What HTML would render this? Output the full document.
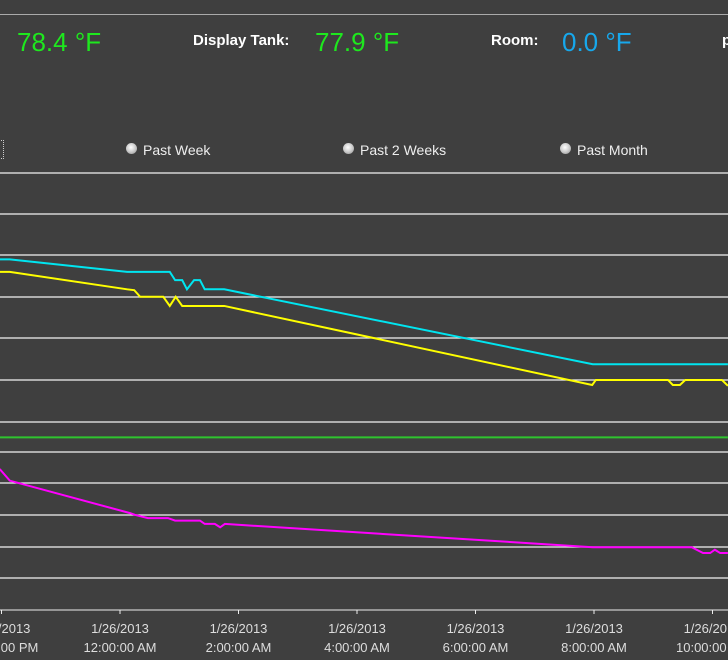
<!DOCTYPE html>
<html><head><meta charset="utf-8"><style>
body{margin:0;background:#3f3f3f;width:728px;height:660px;overflow:hidden;font-family:"Liberation Sans",sans-serif;position:relative}
.t{position:absolute;white-space:nowrap}
.big{font-size:26px;top:27px}
.lab{font-size:15px;color:#fff;font-weight:bold;top:32px}
.r{position:absolute;top:143px;width:11px;height:11px;border-radius:50%;background:radial-gradient(circle at 45% 40%,#fff,#ccc 50%,#888)}
.rt{font-size:14px;color:#eee;top:142px}
</style></head><body>
<div style="position:absolute;left:0;top:14px;width:728px;height:1px;background:#aaa"></div>
<div class="t big" style="left:17px;color:#1ee81e">78.4 °F</div>
<div class="t lab" style="left:193px">Display Tank:</div>
<div class="t big" style="left:315px;color:#1ee81e">77.9 °F</div>
<div class="t lab" style="left:491px">Room:</div>
<div class="t big" style="left:562px;color:#17a8ec">0.0 °F</div>
<div class="t lab" style="left:722px">p</div>
<div style="position:absolute;left:-3px;top:140px;width:5px;height:17px;border:1px dotted #ccc"></div>
<div class="r" style="left:126px"></div>
<div class="t rt" style="left:143px">Past Week</div>
<div class="r" style="left:343px"></div>
<div class="t rt" style="left:360px">Past 2 Weeks</div>
<div class="r" style="left:560px"></div>
<div class="t rt" style="left:577px">Past Month</div>
<svg id="c" width="728" height="660" style="position:absolute;left:0;top:0"></svg>
<script>
const gridY=[173,214,255,297,338,380,422,452,483,515,547,578];
const tickHours=[0,2,4,6,8,10,12];
const tickDates=["1/26/2013","1/26/2013","1/26/2013","1/26/2013","1/26/2013","1/26/2013","1/26/2013"];
const tickTimes=["10:00:00 PM","12:00:00 AM","2:00:00 AM","4:00:00 AM","6:00:00 AM","8:00:00 AM","10:00:00 AM"];
const cyanH=[-0.03,0.14,2.12,2.84,2.93,3.05,3.13,3.25,3.35,3.43,3.76,9.98,12.26];
const cyanV=[79.45,79.45,79.30,79.30,79.20,79.20,79.09,79.20,79.20,79.09,79.09,78.19,78.19];
const yellowH=[-0.03,0.14,2.12,2.24,2.34,2.73,2.84,2.94,3.05,3.76,9.97,10.03,11.25,11.33,11.45,11.54,12.16,12.26];
const yellowV=[79.30,79.30,79.09,79.08,79.00,79.00,78.89,79.00,78.89,78.89,77.94,78.00,78.00,77.94,77.94,78.00,78.00,77.93];
const greenH=[-0.03,12.26];
const greenV=[77.31,77.31];
const magentaH=[-0.03,0.14,2.17,2.25,2.47,2.81,2.93,3.35,3.43,3.60,3.69,3.77,9.98,11.65,11.84,11.96,12.04,12.13,12.26];
const magentaV=[76.93,76.79,76.40,76.38,76.34,76.34,76.31,76.31,76.27,76.27,76.23,76.27,75.99,75.99,75.92,75.92,75.96,75.92,75.92];
const xS=h=>1.5+h*59.25;
const yS=v=>380-(v-78)*83.2;
const svg=document.getElementById('c');
const NS='http://www.w3.org/2000/svg';
function mk(t,a){const e=document.createElementNS(NS,t);for(const k in a)e.setAttribute(k,a[k]);svg.appendChild(e);return e;}
gridY.forEach(y=>{const l=mk('line',{x1:0,x2:728,y1:y,y2:y,stroke:'#f2f2f2','stroke-width':1.2});

});
const ax=mk('line',{x1:0,x2:728,y1:610,y2:610,stroke:'#eee','stroke-width':1});


tickHours.forEach((h,i)=>{const x=xS(h);
const tk=mk('line',{x1:x,x2:x,y1:610,y2:614,stroke:'#eee'});


const t1=mk('text',{x:x,y:633,'text-anchor':'middle',fill:'#ddd','font-size':13});t1.textContent=tickDates[i];


const t2=mk('text',{x:x,y:652,'text-anchor':'middle',fill:'#ddd','font-size':13});t2.textContent=tickTimes[i];

});
function series(H,V,c,n){const p=mk('polyline',{points:H.map((h,i)=>xS(h)+','+yS(V[i])).join(' '),fill:'none',stroke:c,'stroke-width':2});

}
series(greenH,greenV,'#2fc42f','green-series');
series(magentaH,magentaV,'#ff00ff','magenta-series');
series(yellowH,yellowV,'#ffff00','yellow-series');
series(cyanH,cyanV,'#00e5f0','cyan-series');
</script>
</body></html>
